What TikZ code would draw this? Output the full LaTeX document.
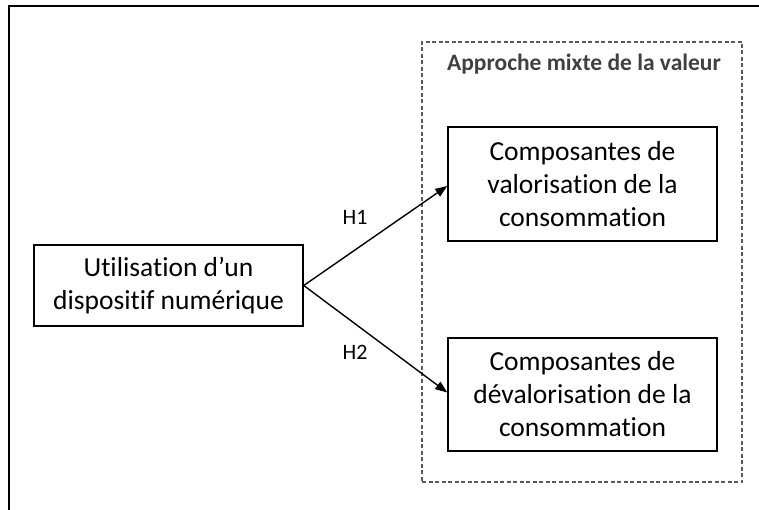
\documentclass[tikz,border=0pt]{standalone}
\usepackage{fontspec}
\setmainfont{Carlito}[Ligatures=NoCommon]
\usetikzlibrary{arrows.meta,positioning}
\definecolor{titlegray}{HTML}{404040}
\definecolor{dashgray}{HTML}{5A5A5A}

\begin{document}
\begin{tikzpicture}[x=1pt,y=-1pt,
    box/.style={draw, line width=1.5pt, align=center, inner sep=0pt,
        minimum width=269pt, font=\fontsize{27.5}{33}\selectfont},
    fleche/.style={line width=1.4pt, -{Triangle[length=12pt,width=9pt]}},
    hyp/.style={font=\fontsize{22}{26}\selectfont}]
\useasboundingbox (0,0) rectangle (759,510);
\draw[line width=1.9pt] (9,520) |- (770,6);
\node[draw=dashgray, dash pattern=on 4pt off 2.5pt, line width=1.2pt, minimum width=320pt, minimum height=440pt] (mixte) at (582,262) {};
\node[font=\fontsize{23.5}{28}\selectfont\bfseries, text=titlegray] (titre) at (584,64) {Approche mixte de la valeur};
\node[box, minimum height=81pt] (util) at (168.5,285.5) {Utilisation d’un\\dispositif numérique};
\node[box, minimum height=114pt] (val) at (582.5,184) {Composantes de\\valorisation de la\\consommation};
\node[box, minimum height=113pt] (deval) at (582.5,394.5) {Composantes de\\dévalorisation de la\\consommation};
\node[hyp] (h1) at (355,217) {H1};
\node[hyp] (h2) at (355,352) {H2};
\draw[fleche] (util.east) -- ([yshift=-2pt]val.west);
\draw[fleche] (util.east) -- ([yshift=2pt]deval.west);
\end{tikzpicture}
\end{document}
